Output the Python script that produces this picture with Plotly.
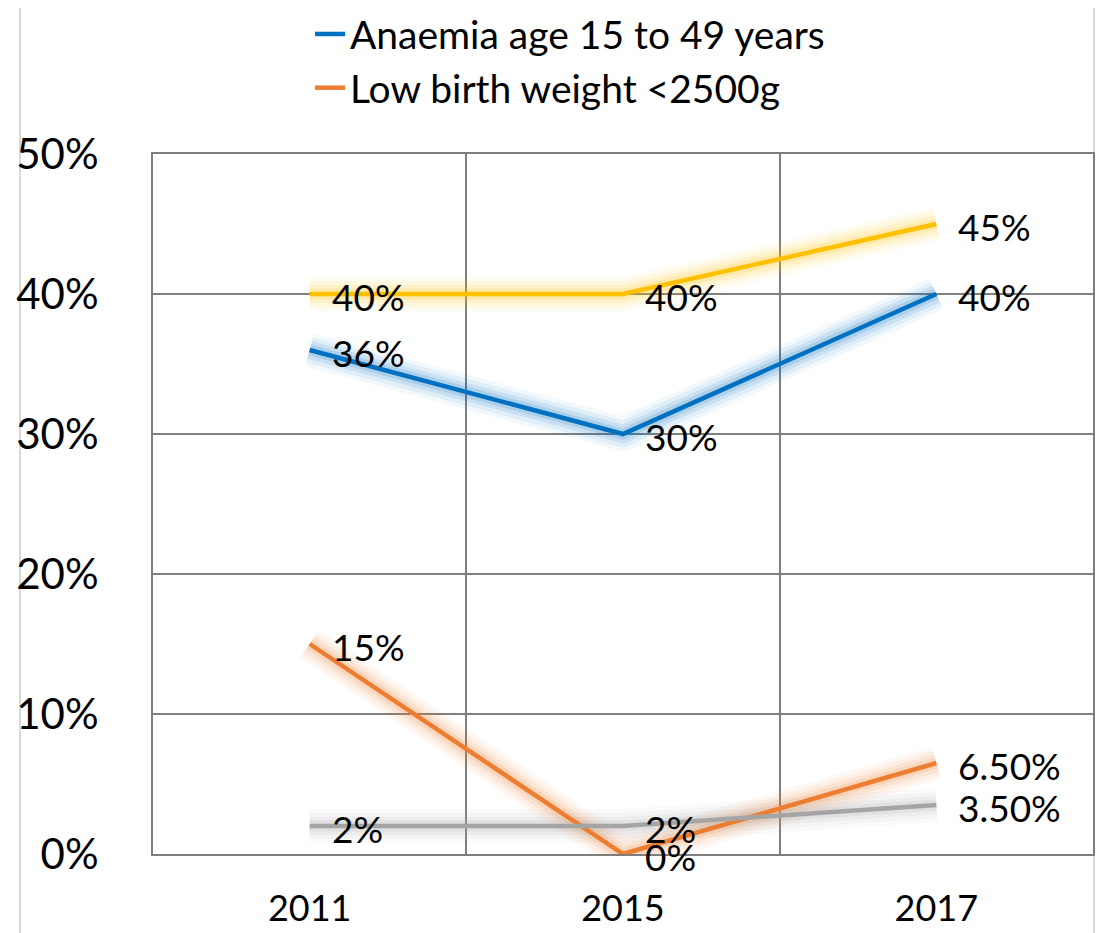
import plotly.graph_objects as go

years = ["2011", "2015", "2017"]
anaemia = [0.36, 0.30, 0.40]
low_birth = [0.15, 0.0, 0.065]
yellow_series = [0.40, 0.40, 0.45]
grey_series = [0.02, 0.02, 0.035]

anaemia_txt = ["36%", "30%", "40%"]
low_birth_txt = ["15%", "0%", "6.50%"]
yellow_txt = ["40%", "40%", "45%"]
grey_txt = ["2%", "2%", "3.50%"]

FONT = "Lato, 'Open Sans', sans-serif"

series = [
    ("Series 3", yellow_series, yellow_txt, "#FFC000", False),
    ("Anaemia age 15 to 49 years", anaemia, anaemia_txt, "#0070C0", True),
    ("Low birth weight <2500g", low_birth, low_birth_txt, "#ED7D31", True),
    ("Series 4", grey_series, grey_txt, "#A5A5A5", False),
]


def rgba(hex_col, a):
    h = hex_col.lstrip("#")
    r, g, b = int(h[0:2], 16), int(h[2:4], 16), int(h[4:6], 16)
    return f"rgba({r},{g},{b},{a})"


fig = go.Figure()

# soft glow behind each line
for name, vals, txt, col, leg in series:
    for w, a in [(34, 0.05), (26, 0.07), (18, 0.10), (11, 0.14)]:
        fig.add_trace(go.Scatter(x=years, y=vals, mode="lines",
                                 line=dict(color=rgba(col, a), width=w),
                                 showlegend=False, hoverinfo="skip"))

for name, vals, txt, col, leg in series:
    fig.add_trace(go.Scatter(x=years, y=vals, mode="lines", name=name,
                             line=dict(color=col, width=4.5),
                             showlegend=leg))
    # data labels to the right of each point (x given as category index)
    for i, (yv, t) in enumerate(zip(vals, txt)):
        fig.add_annotation(x=i, y=yv, text=t, showarrow=False,
                           xanchor="left", yanchor="middle", xshift=20, yshift=-2,
                           font=dict(size=37, color="#000000", family=FONT))

# light outer frame
fig.add_shape(type="rect", xref="paper", yref="paper",
              x0=-0.1415, x1=1.001, y0=-0.2, y1=1.2114,
              line=dict(color="#D9D9D9", width=2), fillcolor="rgba(0,0,0,0)", layer="below")

fig.update_layout(
    width=1104, height=933,
    margin=dict(l=145, r=19, t=146, b=87, autoexpand=False),
    paper_bgcolor="white", plot_bgcolor="white",
    font=dict(family=FONT, color="#000000"),
    legend=dict(x=0.167, y=1.217, xanchor="left", yanchor="top",
                font=dict(size=39, family=FONT), bgcolor="rgba(0,0,0,0)",
                traceorder="normal", tracegroupgap=0),
    showlegend=True,
)
fig.update_xaxes(type="category", range=[-0.5, 2.5], tickson="boundaries", showgrid=True,
                 gridcolor="#7F7F7F", gridwidth=1.5, ticks="", tickangle=0,
                 showline=True, linecolor="#7F7F7F", linewidth=2, mirror=True,
                 tickfont=dict(size=36, family=FONT), ticklabelstandoff=22,
                 zeroline=False, automargin=False)
fig.update_yaxes(range=[0, 0.5], dtick=0.1, tickformat=".0%", showgrid=True,
                 gridcolor="#7F7F7F", gridwidth=1.5, ticks="",
                 showline=True, linecolor="#7F7F7F", linewidth=2, mirror=True,
                 tickfont=dict(size=42, family=FONT), ticklabelstandoff=44,
                 zeroline=False, automargin=False)

fig.write_html("out.html")
